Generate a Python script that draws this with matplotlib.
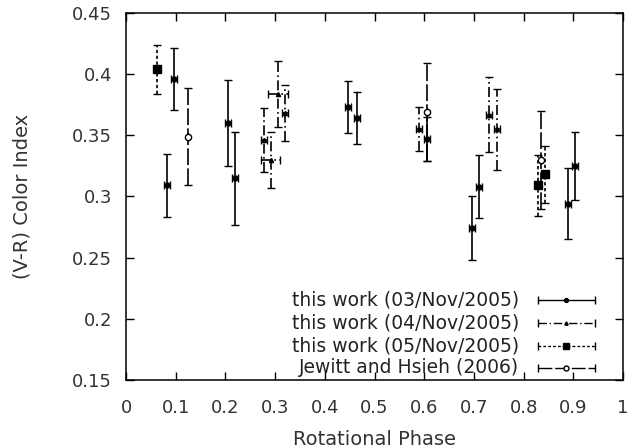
"""(V-R) colour index versus rotational phase."""

import matplotlib
matplotlib.use("Agg")
import matplotlib.pyplot as plt
import numpy as np

plt.rcParams["font.family"] = ["DejaVu Sans"]

# --- data ---
nov03_phase = [0.082, 0.097, 0.205, 0.219, 0.447, 0.464, 0.605, 0.697, 0.711, 0.889, 0.903]
nov03_vr = [0.309, 0.396, 0.360, 0.315, 0.373, 0.364, 0.347, 0.274, 0.308, 0.294, 0.325]
nov03_err = [0.026, 0.025, 0.035, 0.038, 0.021, 0.021, 0.018, 0.026, 0.026, 0.029, 0.028]
nov03_xerr = [0.006] * 11

nov04_phase = [0.278, 0.291, 0.306, 0.320, 0.590, 0.730, 0.746]
nov04_vr = [0.346, 0.330, 0.384, 0.368, 0.355, 0.367, 0.355]
nov04_err = [0.026, 0.023, 0.027, 0.023, 0.018, 0.031, 0.033]
nov04_xerr = [0.006, 0.019, 0.020, 0.006, 0.006, 0.006, 0.006]

nov05_phase = [0.062, 0.828, 0.844]
nov05_vr = [0.404, 0.309, 0.318]
nov05_err = [0.020, 0.025, 0.023]
nov05_xerr = [0.006, 0.006, 0.006]

jh_phase = [0.124, 0.605, 0.836]
jh_vr = [0.349, 0.369, 0.330]
jh_err = [0.040, 0.040, 0.040]
jh_xerr = [0.0, 0.0, 0.0]

series = [
    ("this work (03/Nov/2005)", nov03_phase, nov03_vr, nov03_err, nov03_xerr,
     "o", "black", "-", 3.5),
    ("this work (04/Nov/2005)", nov04_phase, nov04_vr, nov04_err, nov04_xerr,
     "^", "black", (0, (6, 2, 1, 2)), 3),
    ("this work (05/Nov/2005)", nov05_phase, nov05_vr, nov05_err, nov05_xerr,
     "s", "black", (0, (2, 1.5)), 5.5),
    ("Jewitt and Hsieh (2006)", jh_phase, jh_vr, jh_err, jh_xerr,
     "o", "white", (0, (10, 2)), 4.5),
]

fig = plt.figure(figsize=(6.38, 4.48), dpi=100)
ax = fig.add_axes([0.1975, 0.152, 0.779, 0.819])

for label, x, y, yerr, xerr, marker, mfc, ls, ms in series:
    eb = ax.errorbar(x, y, yerr=yerr, xerr=xerr, fmt=marker, ms=ms, mfc=mfc,
                     mec="black", mew=1, ecolor="black", elinewidth=1.2,
                     capsize=3, capthick=1.2, zorder=3)
    for lc in eb[2]:
        lc.set_linestyle(ls)

ax.set_xlim(0, 1)
ax.set_ylim(0.15, 0.45)
ax.set_xticks(np.arange(0, 1.01, 0.1))
ax.set_xticklabels(["0", "0.1", "0.2", "0.3", "0.4", "0.5", "0.6", "0.7", "0.8", "0.9", "1"])
ax.set_yticks(np.arange(0.15, 0.451, 0.05))
ax.set_yticklabels(["0.15", "0.2", "0.25", "0.3", "0.35", "0.4", "0.45"])
ax.tick_params(direction="in", length=6, width=1, top=True, right=True,
               labelsize=13, labelcolor="#333333")
ax.tick_params(axis="y", pad=10)
ax.tick_params(axis="x", pad=14)
for s in ax.spines.values():
    s.set_linewidth(1.1)
ax.set_xlabel("Rotational Phase", fontsize=14, color="#333333", labelpad=9)
ax.set_ylabel("(V-R) Color Index", fontsize=14, color="#333333", labelpad=29)

# legend drawn gnuplot-style: text right-aligned, sample bar to its right
tr = ax.transAxes
rows = [0.218, 0.155, 0.093, 0.033]
for (label, x, y, yerr, xerr, marker, mfc, ls, ms), ry in zip(series, rows):
    ax.text(0.791, ry, label, transform=tr, ha="right", va="center",
            fontsize=13.5, color="#222222")
    ax.plot([0.829, 0.944], [ry, ry], transform=tr, color="black",
            lw=1.0, ls=ls)
    ax.plot([0.829, 0.944], [ry, ry], transform=tr, ls="none", marker="|",
            ms=6, mew=1.0, color="black")
    ax.plot([0.886], [ry], transform=tr, ls="none", marker=marker,
            ms=ms * 0.8, mfc=mfc, mec="black", mew=1)

fig.savefig("out.png", dpi=100)
